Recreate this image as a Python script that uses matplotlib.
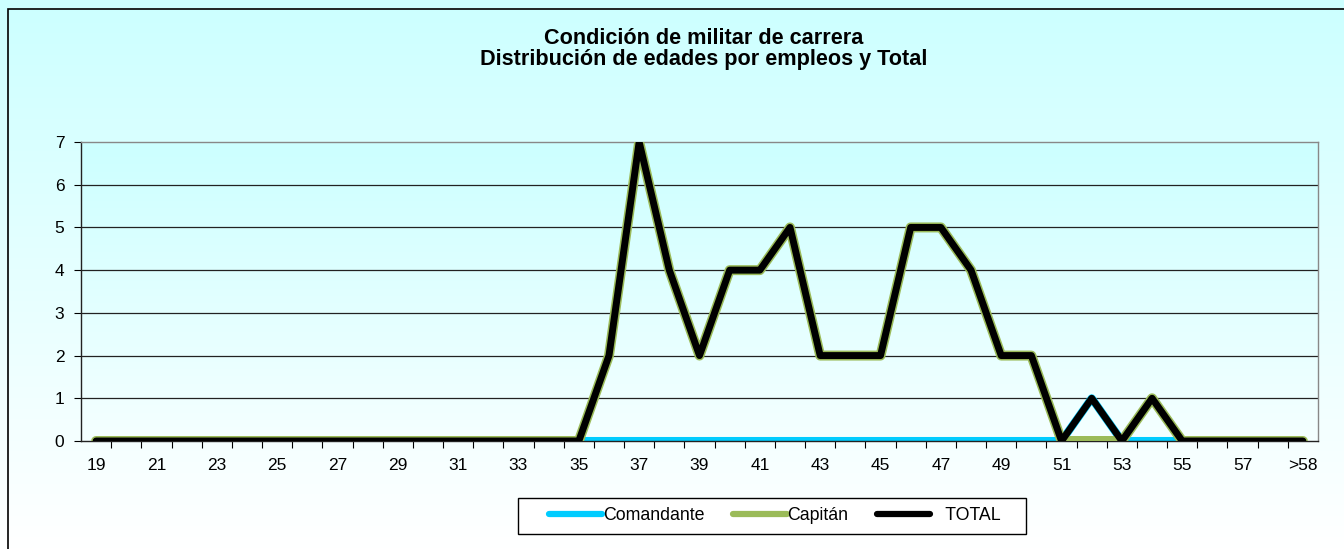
#!/usr/bin/env python3
import numpy as np
import matplotlib
matplotlib.use("Agg")
import matplotlib.pyplot as plt
from matplotlib.patches import Rectangle

plt.rcParams['font.family'] = ['Liberation Sans', 'DejaVu Sans']

# age categories 19..58 and ">58"
edades = [str(a) for a in range(19, 59)] + [">58"]

total = [0] * 17 + [2, 7, 4, 2, 4, 4, 5, 2, 2, 2, 5, 5, 4, 2, 2, 0, 1, 0, 1, 0, 0, 0, 0, 0]
comandante = [0] * 33 + [1] + [0] * 7
capitan = [t - c for t, c in zip(total, comandante)]

W, H = 1344, 549
fig = plt.figure(figsize=(W / 100, H / 100), dpi=100)

# figure background gradient
bg = fig.add_axes([0, 0, 1, 1], zorder=-10)
grad = np.linspace(0, 1, 256).reshape(-1, 1)
top = np.array([0.80, 1.0, 1.0])
bot = np.array([1.0, 1.0, 1.0])
img = top[None, None, :] * (1 - grad[:, :, None]) + bot[None, None, :] * grad[:, :, None]
bg.imshow(img, aspect='auto', extent=[0, 1, 0, 1])
bg.set_xlim(0, 1)
bg.set_ylim(0, 1)
bg.axis('off')
# outer border (runs off the right / bottom edge)
bg.add_patch(Rectangle((8 / W, -0.05), 1.1, 1 - 9 / H + 0.05, fill=False,
                       edgecolor='black', lw=1.2, transform=bg.transAxes))
# legend box
bg.add_patch(Rectangle((518 / W, 1 - 534 / H), (1026 - 518) / W, 36 / H,
                       facecolor='white', edgecolor='black', lw=1.0,
                       transform=bg.transAxes))

ax = fig.add_axes([81 / W, 1 - 441 / H, (1318 - 81) / W, (441 - 142) / H])
x = np.arange(len(edades))

# plot area gradient
img2 = top[None, None, :] * (1 - grad[:, :, None]) + np.array([0.96, 1.0, 1.0])[None, None, :] * grad[:, :, None]
ax.imshow(img2, aspect='auto', extent=[-0.5, len(edades) - 0.5, 0, 7], zorder=0)

for yv in range(1, 7):
    ax.axhline(yv, color='#222222', lw=0.9, zorder=1)

ax.plot(x, comandante, color='#00CCFF', lw=5.8, solid_capstyle='round',
        solid_joinstyle='round', label='Comandante', zorder=2)
ax.plot(x, capitan, color='#9BBB59', lw=7.2, solid_capstyle='round',
        solid_joinstyle='round', label='Capitán', zorder=3)
ax.plot(x, total, color='black', lw=5.0, solid_capstyle='round',
        solid_joinstyle='round', label='   TOTAL', zorder=4)

ax.set_xlim(-0.5, len(edades) - 0.5)
ax.set_ylim(0, 7)
ax.set_yticks(range(0, 8))
ax.set_xticks(x[::2])
ax.set_xticklabels(edades[::2])
ax.set_xticks(np.arange(0.5, len(edades) - 0.5, 1), minor=True)
ax.tick_params(axis='x', which='major', length=0, labelsize=12.5, pad=12)
ax.tick_params(axis='x', which='minor', length=5, width=0.8, direction='out')
ax.tick_params(axis='y', length=5, width=0.8, direction='out', labelsize=12.5, pad=7)

ax.spines['left'].set_color('#222222')
ax.spines['bottom'].set_color('#222222')
ax.spines['top'].set_color('#888888')
ax.spines['right'].set_color('#888888')
for s in ax.spines.values():
    s.set_linewidth(1.0)

fig.text(704 / W, 1 - 49 / H,
         "Condición de militar de carrera\nDistribución de edades por empleos y Total",
         ha='center', va='center', fontsize=15.6, fontweight='bold', linespacing=1.05)

leg = fig.legend(loc='center', bbox_to_anchor=(775 / W, 1 - 516 / H), ncol=3,
                 frameon=False, fontsize=12.8,
                 handlelength=3.0, columnspacing=1.6, handletextpad=0.05,
                 borderpad=0.3, borderaxespad=0)
for line in leg.get_lines():
    line.set_linewidth(4.5)
    line.set_solid_capstyle('round')

fig.savefig("out.png", dpi=100)
